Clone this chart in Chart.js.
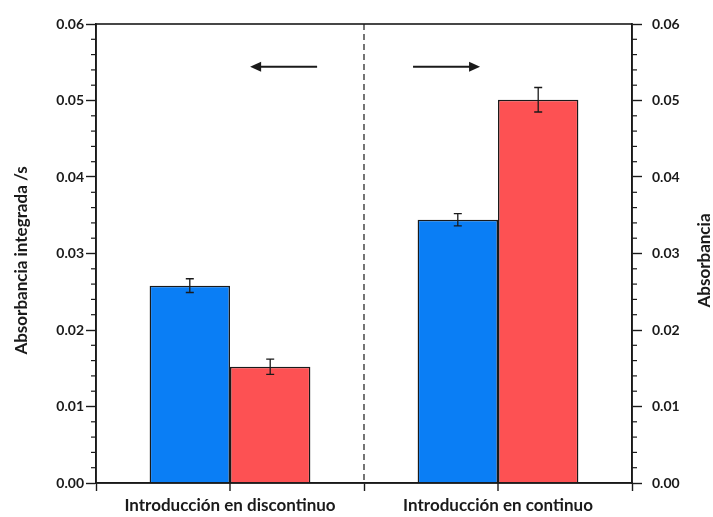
<!DOCTYPE html>
<html><head><meta charset="utf-8">
<script src="https://cdn.jsdelivr.net/npm/chart.js@4/dist/chart.umd.min.js"></script>
<style>html,body{margin:0;padding:0;background:#fff}#wrap{width:713px;height:517px;position:relative}</style>
</head><body><div id="wrap"><canvas id="c" width="713" height="517"></canvas></div>
<script>
// ---- data ----
const categories = ['Introducción en discontinuo', 'Introducción en continuo'];
const blueValues = [0.0258, 0.0344];
const blueErrors = [0.0009, 0.0008];
const redValues  = [0.0152, 0.0501];
const redErrors  = [0.0010, 0.0016];
const yMin = 0, yMax = 0.06, yMajorStep = 0.01, yMinorStep = 0.002;
const leftTitle = 'Absorbancia integrada /s';
const rightTitle = 'Absorbancia';
// arrow annotations in (category-index offset, value) units
const arrows = [
  {from: 0.325, to: 0.075, value: 0.0544},
  {from: 0.683, to: 0.933, value: 0.0544}
];

const INK = '#1a1a1a';
const FONT = 'Lato, "Open Sans", sans-serif';

function yTickLabel(v){ return Number(v).toFixed(2); }

const framePlugin = {
  id: 'frame',
  afterDraw(chart){
    const {ctx, chartArea: a, scales} = chart;
    const xs = scales.x;
    ctx.save();
    // dashed separator between categories
    const c0 = xs.getPixelForValue(0), c1 = xs.getPixelForValue(1);
    const mid = (c0 + c1) / 2;
    ctx.strokeStyle = INK; ctx.lineWidth = 1.2;
    ctx.setLineDash([6,4]);
    ctx.beginPath(); ctx.moveTo(mid, a.top); ctx.lineTo(mid, a.bottom); ctx.stroke();
    ctx.setLineDash([]);
    // frame
    ctx.lineWidth = 1.6; ctx.strokeStyle = INK;
    ctx.strokeRect(a.left, a.top, a.right - a.left, a.bottom - a.top);
    // center ticks on x axis
    ctx.lineWidth = 1.4;
    for (let i = 0; i < categories.length; i++) {
      const px = xs.getPixelForValue(i);
      ctx.beginPath(); ctx.moveTo(px, a.bottom); ctx.lineTo(px, a.bottom + 8); ctx.stroke();
    }
    // minor ticks on both y axes
    ctx.lineWidth = 1.2;
    for (const id of ['y','y2']) {
      const s = scales[id];
      const nMinor = Math.round((yMax - yMin) / yMinorStep);
      for (let k = 0; k <= nMinor; k++) {
        const v = yMin + k * yMinorStep;
        if (k % Math.round(yMajorStep / yMinorStep) === 0) continue;
        const py = s.getPixelForValue(v);
        ctx.beginPath();
        if (id === 'y') { ctx.moveTo(a.left, py); ctx.lineTo(a.left - 5, py); }
        else { ctx.moveTo(a.right, py); ctx.lineTo(a.right + 5, py); }
        ctx.stroke();
      }
    }
    // arrows
    const catW = c1 - c0;
    ctx.lineWidth = 2; ctx.fillStyle = INK;
    for (const ar of arrows) {
      const x1 = c0 + ar.from * catW, x2 = c0 + ar.to * catW;
      const y = scales.y.getPixelForValue(ar.value);
      const dir = Math.sign(x2 - x1);
      ctx.beginPath(); ctx.moveTo(x1, y); ctx.lineTo(x2 - dir*8, y); ctx.stroke();
      ctx.beginPath(); ctx.moveTo(x2, y); ctx.lineTo(x2 - dir*11, y - 5); ctx.lineTo(x2 - dir*11, y + 5); ctx.closePath(); ctx.fill();
    }
    // axis titles
    ctx.fillStyle = INK;
    ctx.font = 'bold 17px ' + FONT;
    ctx.textAlign = 'center'; ctx.textBaseline = 'middle';
    const cy = (a.top + a.bottom) / 2 + 7;
    ctx.save(); ctx.translate(22, cy); ctx.rotate(-Math.PI/2); ctx.fillText(leftTitle, 0, 0); ctx.restore();
    ctx.save(); ctx.translate(705, cy); ctx.rotate(-Math.PI/2); ctx.fillText(rightTitle, 0, 0); ctx.restore();
    ctx.restore();
  }
};

const errorBarPlugin = {
  id: 'errbars',
  afterDatasetsDraw(chart){
    const {ctx, scales} = chart;
    const errs = [blueErrors, redErrors];
    const vals = [blueValues, redValues];
    ctx.save();
    ctx.strokeStyle = INK; ctx.lineWidth = 1.3;
    chart.data.datasets.forEach((ds, d) => {
      const meta = chart.getDatasetMeta(d);
      meta.data.forEach((el, i) => {
        const v = vals[d][i], e = errs[d][i];
        const yt = scales.y.getPixelForValue(v + e), yb = scales.y.getPixelForValue(v - e);
        ctx.beginPath();
        ctx.moveTo(el.x, yt); ctx.lineTo(el.x, yb);
        ctx.moveTo(el.x - 4, yt); ctx.lineTo(el.x + 4, yt);
        ctx.moveTo(el.x - 4, yb); ctx.lineTo(el.x + 4, yb);
        ctx.stroke();
      });
    });
    ctx.restore();
  }
};

const yAxisBase = (pos, width) => ({
  type: 'linear', position: pos, min: yMin, max: yMax,
  ticks: { stepSize: yMajorStep, callback: yTickLabel, color: INK, font: {family: FONT, size: 14, weight: 'bold'}, padding: pos === 'left' ? 2 : 10 },
  grid: { drawOnChartArea: false, drawTicks: true, tickLength: 10, tickColor: INK, tickWidth: 1.4 },
  border: { display: true, color: INK, width: 1.6 },
  afterFit(s){ s.width = width; }
});

new Chart(document.getElementById('c'), {
  type: 'bar',
  data: {
    labels: categories,
    datasets: [
      { data: blueValues, backgroundColor: '#0a7ef5', borderColor: INK, borderWidth: 1.5, yAxisID: 'y' },
      { data: redValues,  backgroundColor: '#fd5153', borderColor: INK, borderWidth: 1.5, yAxisID: 'y' }
    ]
  },
  options: {
    responsive: false, animation: false,
    devicePixelRatio: 1,
    layout: { padding: { top: 24, left: 0, right: 0, bottom: 0 } },
    datasets: { bar: { barPercentage: 1.0, categoryPercentage: 0.6 } },
    plugins: { legend: { display: false }, tooltip: { enabled: false } },
    scales: {
      x: {
        type: 'category',
        ticks: { color: INK, font: {family: FONT, size: 17, weight: 'bold'}, padding: 4 },
        grid: { drawOnChartArea: false, tickLength: 8, tickColor: INK, tickWidth: 1.4 },
        border: { display: true, color: INK, width: 1.6 },
        afterFit(s){ s.height = 34; }
      },
      y: yAxisBase('left', 96),
      y2: yAxisBase('right', 81)
    }
  },
  plugins: [errorBarPlugin, framePlugin]
});
</script>
</body></html>
